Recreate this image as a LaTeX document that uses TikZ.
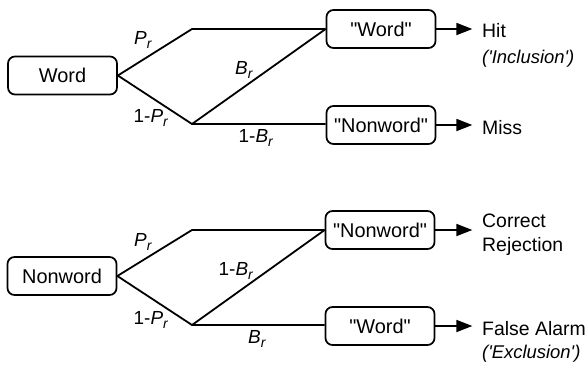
\documentclass[tikz,border=0pt]{standalone}
\usepackage{fontspec}
\setmainfont{Liberation Sans}
\usetikzlibrary{arrows.meta}
\newcommand{\sub}[2]{\textit{#1}\raisebox{-0.35ex}{\fontsize{14}{14}\selectfont\textit{#2}}}
\newcommand{\qq}[1]{\textquotedbl#1\textquotedbl}
\begin{document}
\begin{tikzpicture}[x=1bp,y=-1bp,
  box/.style={draw,line width=1.7bp,rounded corners=7bp,minimum width=109bp,minimum height=38bp,
    inner sep=0pt,font=\fontsize{20}{22}\selectfont},
  wire/.style={line width=1.8bp},
  arr/.style={line width=1.8bp,-{Triangle[length=16bp,width=12bp]}},
  lbl/.style={font=\fontsize{19}{20}\selectfont,inner sep=0pt},
  outcome/.style={anchor=west,inner sep=0pt,align=left,font=\fontsize{19.5}{24}\selectfont},
  note/.style={anchor=west,inner sep=0pt,font=\fontsize{18.5}{20}\selectfont\itshape}]
\useasboundingbox (0,0) rectangle (587,368);

% ---- upper tree: word stimulus ----
\node[box] (w) at (62.5,75.5) {Word};
\node[box] (rw1) at (381,29) {\qq{Word}};
\node[box] (rn1) at (381,125) {\qq{Nonword}};
\coordinate (u1) at (192,29);
\coordinate (d1) at (192,124);
\draw[wire] (w.east) -- (u1) -- (rw1.west);
\draw[wire] (w.east) -- (d1) -- (d1 -| rn1.west);
\draw[wire] (d1) -- (rw1.west);
\node[lbl] at (143,40) {\sub{P}{r}};
\node[lbl] at (244,70) {\sub{B}{r}};
\node[lbl] at (151,118) {1-\sub{P}{r}};
\node[lbl] at (256,138) {1-\sub{B}{r}};
\node[outcome] (hit) at (482,31) {Hit};
\node[note] (inc) at (482,59) {(\textquotesingle Inclusion\textquotesingle)};
\node[outcome] (miss) at (482,128) {Miss};
\draw[arr] (rw1.east) -- ++(36,0);
\draw[arr] (rn1.east) -- ++(36,0);

% ---- lower tree: nonword stimulus ----
\node[box] (n) at (62,276) {Nonword};
\node[box] (rn2) at (380,230) {\qq{Nonword}};
\node[box] (rw2) at (380,326) {\qq{Word}};
\coordinate (u2) at (192,230);
\coordinate (d2) at (192,325);
\draw[wire] (n.east) -- (u2) -- (rn2.west);
\draw[wire] (n.east) -- (d2) -- (d2 -| rw2.west);
\draw[wire] (d2) -- (rn2.west);
\node[lbl] at (143,242) {\sub{P}{r}};
\node[lbl] at (236,271) {1-\sub{B}{r}};
\node[lbl] at (151,320) {1-\sub{P}{r}};
\node[lbl] at (257,339) {\sub{B}{r}};
\node[outcome] (cr) at (482,235) {Correct\\Rejection};
\node[outcome] (fa) at (482,329) {False Alarm};
\node[note] (exc) at (482,354) {(\textquotesingle Exclusion\textquotesingle)};
\draw[arr] (rn2.east) -- ++(37,0);
\draw[arr] (rw2.east) -- ++(37,0);
\end{tikzpicture}
\end{document}
